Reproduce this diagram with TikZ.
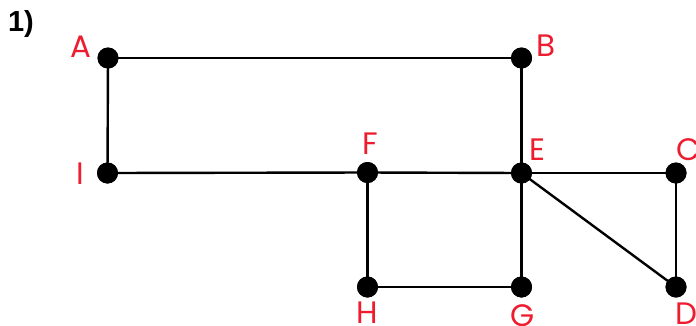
\documentclass[tikz,border=0pt]{standalone}
\usepackage{fontspec}
\newfontfamily\labelfont{Poppins}
\newfontfamily\numfont{Liberation Sans}
\definecolor{labelred}{RGB}{237,28,46}
\begin{document}
\begin{tikzpicture}[x=1pt,y=-1pt,
  vertex/.style={circle,fill=black,inner sep=0pt,minimum size=21pt},
  edge/.style={line width=2.4pt,black},
  vlabel/.style={text=labelred,font=\labelfont\fontsize{31}{31}\selectfont,inner sep=0pt}]
  \useasboundingbox (0,0) rectangle (696,325);
  % vertices
  \node[vertex] (A) at (108,58) {};
  \node[vertex] (B) at (521.5,58) {};
  \node[vertex] (I) at (107.5,173) {};
  \node[vertex] (F) at (367.5,172.5) {};
  \node[vertex] (E) at (521.5,173) {};
  \node[vertex] (C) at (676,173) {};
  \node[vertex] (H) at (367.5,287) {};
  \node[vertex] (G) at (521.5,287) {};
  \node[vertex] (D) at (676,287) {};
  % edges
  \draw[edge] (A.center) -- (B.center);
  \draw[edge] (A.center) -- (I.center);
  \draw[edge] (B.center) -- (E.center);
  \draw[edge] (I.center) -- (F.center);
  \draw[edge] (F.center) -- (E.center);
  \draw[edge] (E.center) -- (C.center);
  \draw[edge] (C.center) -- (D.center);
  \draw[edge] (E.center) -- (D.center);
  \draw[edge] (E.center) -- (G.center);
  \draw[edge] (F.center) -- (H.center);
  \draw[edge] (H.center) -- (G.center);
  % redraw dots on top of the edges
  \foreach \v in {A,B,I,F,E,C,H,G,D}
    \fill (\v) circle (10.5pt);
  % labels
  \node[vlabel] (lA) at (81,47) {A};
  \node[vlabel] (lB) at (546,46) {B};
  \node[vlabel] (lI) at (80,174) {I};
  \node[vlabel] (lF) at (370,144) {F};
  \node[vlabel] (lE) at (537,150) {E};
  \node[vlabel] (lC) at (688,150) {C};
  \node[vlabel] (lH) at (367,313) {H};
  \node[vlabel] (lG) at (523,316) {G};
  \node[vlabel] (lD) at (686,314) {D};
  \node[font=\numfont\bfseries\fontsize{29}{29}\selectfont,inner sep=0pt] (num) at (21,24) {1)};
\end{tikzpicture}
\end{document}
